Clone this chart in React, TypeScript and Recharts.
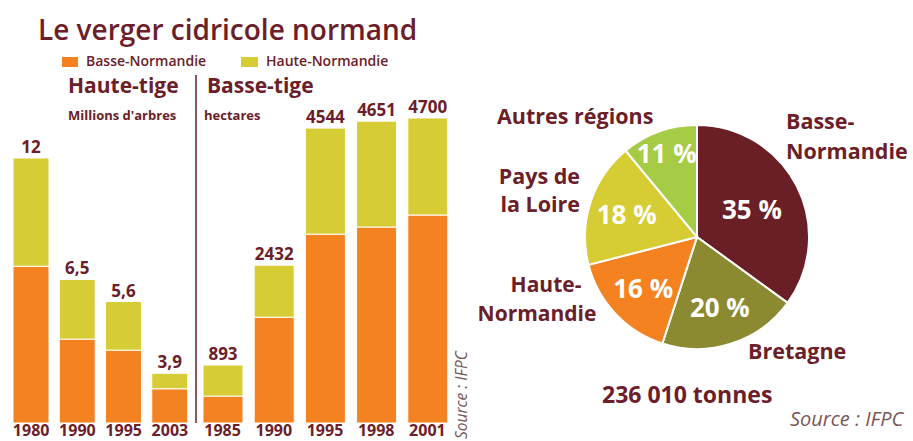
import { BarChart, Bar, XAxis, YAxis, LabelList, PieChart, Pie, Cell } from 'recharts'

// Haute-tige (millions d'arbres)
const htYears = ['1980', '1990', '1995', '2003']
const htBasse = [7.1, 3.8, 3.3, 1.55]
const htHaute = [4.9, 2.7, 2.2, 0.7]
const htLabels = ['12', '6,5', '5,6', '3,9']

// Basse-tige (hectares)
const btYears = ['1985', '1990', '1995', '1998', '2001']
const btBasse = [415, 1630, 2910, 3020, 3205]
const btHaute = [478, 802, 1634, 1631, 1495]
const btLabels = ['893', '2432', '4544', '4651', '4700']

// Production by region
const pieNames = ['Basse-Normandie', 'Bretagne', 'Haute-Normandie', 'Pays de la Loire', 'Autres régions']
const pieValues = [35, 20, 16, 18, 11]
const pieColors = ['#6A1E25', '#8C8A30', '#F58220', '#D6CC34', '#A6CB45']

const ORANGE = '#F58220'
const YELLOW = '#D6CD36'
const MAROON = '#6B2029'
const GREYISH = '#7a5558'
const FONT = "'Open Sans', 'DejaVu Sans', sans-serif"

const htData = htYears.map((year, i) => ({ year, basse: htBasse[i], haute: htHaute[i], label: htLabels[i] }))
const btData = btYears.map((year, i) => ({ year, basse: btBasse[i], haute: btHaute[i], label: btLabels[i] }))
const pieData = pieNames.map((name, i) => ({ name, value: pieValues[i] }))

const RAD = Math.PI / 180

function renderPieLabel(props: any) {
  const { cx, cy, midAngle, outerRadius, percent, value } = props
  // big slices keep the label nearer the centre, thin ones push it out
  const k = percent >= 0.3 ? 0.55 : percent < 0.15 ? 0.8 : 0.66
  const r = outerRadius * k
  const x = cx + r * Math.cos(-midAngle * RAD)
  const y = cy + r * Math.sin(-midAngle * RAD)
  return (
    <text x={x} y={y} fill="#fff" textAnchor="middle" dominantBaseline="central"
      fontSize={26} fontWeight={700} fontFamily={FONT}>
      {value} %
    </text>
  )
}

function StackedBars({ data, max, top, width, barSize }: { data: any[]; max: number; top: number; width: number; barSize: number }) {
  return (
    <BarChart width={width} height={441} data={data} margin={{ top, right: 0, bottom: 0, left: 0 }}>
      <XAxis
        dataKey="year"
        axisLine={false}
        tickLine={false}
        tickSize={0}
        tickMargin={2}
        interval={0}
        height={18}
        tick={{ fill: MAROON, fontSize: 16, fontWeight: 700, fontFamily: FONT }}
      />
      <YAxis hide domain={[0, max]} />
      <Bar dataKey="basse" stackId="s" fill={ORANGE} stroke="#fff" strokeWidth={1} barSize={barSize} isAnimationActive={false} />
      <Bar dataKey="haute" stackId="s" fill={YELLOW} stroke="#fff" strokeWidth={1} barSize={barSize} isAnimationActive={false}>
        <LabelList dataKey="label" position="top" offset={5} fill={MAROON} fontSize={17} fontWeight={700} fontFamily={FONT} />
      </Bar>
    </BarChart>
  )
}

export default function App() {
  return (
    <div style={{ position: 'absolute', left: 0, top: 0, width: 913, height: 441, background: '#fff', overflow: 'hidden', fontFamily: FONT }}>
      <div style={{ position: 'absolute', left: 8, top: 0 }}>
        <StackedBars data={htData} max={12} top={158} width={185} barSize={36} />
      </div>
      <div style={{ position: 'absolute', left: 197, top: 0 }}>
        <StackedBars data={btData} max={4700} top={118} width={256} barSize={40} />
      </div>
      <div style={{ position: 'absolute', left: 460, top: 0 }}>
        <PieChart width={453} height={441} margin={{ top: 0, right: 0, bottom: 0, left: 0 }}>
          <Pie
            data={pieData}
            dataKey="value"
            cx={237}
            cy={237}
            outerRadius={112}
            startAngle={90}
            endAngle={-270}
            stroke="#fff"
            strokeWidth={2}
            labelLine={false}
            label={renderPieLabel}
            isAnimationActive={false}
          >
            {pieData.map((d, i) => (
              <Cell key={d.name} fill={pieColors[i]} />
            ))}
          </Pie>
        </PieChart>
      </div>
      <svg width={913} height={441} style={{ position: 'absolute', left: 0, top: 0, pointerEvents: 'none' }} fontFamily={FONT}>
        <text x={38} y={40} fontSize={28} fontWeight={600} fill={MAROON}>Le verger cidricole normand</text>

        <rect x={62} y={57} width={16} height={10} fill={ORANGE} />
        <text x={86} y={66} fontSize={14} fontWeight={600} fill={MAROON}>Basse-Normandie</text>
        <rect x={241} y={57} width={17} height={10} fill={YELLOW} />
        <text x={266} y={66} fontSize={14} fontWeight={600} fill={MAROON}>Haute-Normandie</text>

        <text x={68} y={93} fontSize={21} fontWeight={700} fill={MAROON}>Haute-tige</text>
        <text x={207} y={93} fontSize={21} fontWeight={700} fill={MAROON}>Basse-tige</text>
        <text x={68} y={120} fontSize={13} fontWeight={700} fill={MAROON}>Millions d'arbres</text>
        <text x={204} y={120} fontSize={13} fontWeight={700} fill={MAROON}>hectares</text>
        <line x1={196} y1={75} x2={196} y2={423} stroke={MAROON} strokeWidth={1.5} />

        <text x={467} y={439} transform="rotate(-90 467 439)" fontSize={15.5} fontStyle="italic" fill={GREYISH}>Source : IFPC</text>

        <text x={786} y={129} fontSize={21.5} fontWeight={700} fill={MAROON}>Basse-</text>
        <text x={786} y={159} fontSize={21.5} fontWeight={700} fill={MAROON}>Normandie</text>
        <text x={748} y={359} fontSize={21.5} fontWeight={700} fill={MAROON}>Bretagne</text>
        <text x={546} y={292} fontSize={21} fontWeight={700} fill={MAROON} textAnchor="middle">Haute-</text>
        <text x={537} y={321} fontSize={21} fontWeight={700} fill={MAROON} textAnchor="middle">Normandie</text>
        <text x={580} y={184} fontSize={21.5} fontWeight={700} fill={MAROON} textAnchor="end">Pays de</text>
        <text x={580} y={212} fontSize={21.5} fontWeight={700} fill={MAROON} textAnchor="end">la Loire</text>
        <text x={497} y={124} fontSize={21.5} fontWeight={700} fill={MAROON}>Autres régions</text>
        <text x={602} y={403} fontSize={23} fontWeight={700} fill={MAROON}>236 010 tonnes</text>
        <text x={790} y={426} fontSize={20} fontStyle="italic" fill={GREYISH}>Source : IFPC</text>
      </svg>
    </div>
  )
}
